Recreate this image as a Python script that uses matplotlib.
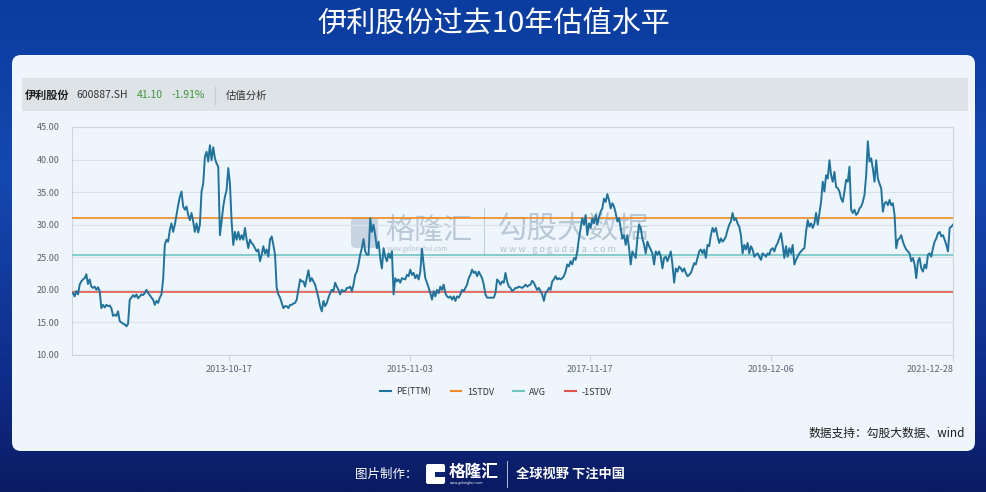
import numpy as np
import pandas as pd
import matplotlib.pyplot as plt
from matplotlib.patches import FancyBboxPatch, Rectangle
from matplotlib.lines import Line2D
from matplotlib.colors import LinearSegmentedColormap

plt.rcParams['font.family'] = ['Noto Sans CJK SC', 'DejaVu Sans']

# PE(TTM), roughly weekly samples, 2012-01 .. 2021-12
pe_2012_2013 = [
    19.5, 19.0, 19.8, 19.3, 20.8, 21.3, 21.6, 21.8, 22.4, 20.9,
    21.6, 20.5, 20.3, 20.5, 20.0, 20.4, 19.8, 17.2, 17.7, 17.3,
    17.7, 17.5, 17.6, 17.2, 16.0, 16.2, 16.0, 16.7, 15.2, 15.0,
    14.8, 14.7, 14.4, 14.8, 18.5, 18.8, 19.2, 18.9, 19.3, 18.7,
    19.0, 19.3, 19.2, 19.5, 20.0, 19.5, 19.2, 18.8, 18.5, 17.7,
    18.3, 18.0, 18.8, 19.3, 21.6, 26.9, 27.7, 27.4, 29.2, 30.2,
    28.9, 30.0, 31.5, 33.0, 34.3, 35.1, 32.8, 32.3, 32.8, 31.5,
    30.7, 31.8, 30.5, 28.9, 30.2, 28.8, 30.0, 35.1, 36.3, 40.4,
    41.2, 39.7, 42.2, 39.9, 41.9, 40.2, 39.4, 38.9, 28.4]
pe_2013_2015 = [
    30.5, 32.8, 34.3, 35.3, 38.7, 36.3, 30.5, 26.9, 28.9, 27.7,
    28.9, 27.7, 28.4, 27.7, 29.5, 27.7, 26.4, 27.7, 27.2, 26.9,
    26.4, 25.9, 26.2, 24.4, 25.4, 26.7, 25.6, 26.2, 25.1, 27.7,
    28.2, 26.9, 25.4, 20.3, 19.3, 18.8, 18.0, 17.2, 17.5, 17.5,
    17.2, 17.7, 17.7, 17.9, 18.0, 18.5, 20.0, 21.6, 21.3, 21.3,
    20.5, 21.8, 23.0, 21.3, 21.8, 21.3, 20.8, 19.8, 18.8, 17.5,
    16.7, 18.3, 17.5, 18.0, 18.8, 19.5, 20.0, 19.8, 21.1, 20.5,
    20.0, 19.3, 20.0, 19.8, 19.8, 20.3, 20.3, 20.5, 19.8, 20.8,
    22.3, 22.8, 23.9, 25.4, 26.4, 27.8, 25.9, 25.4]
pe_2015_2017 = [
    25.4, 31.0, 28.9, 30.0, 28.4, 26.4, 27.4, 24.9, 23.3, 26.4,
    25.1, 24.4, 25.6, 24.9, 25.9, 19.3, 21.8, 21.3, 21.6, 21.1,
    21.8, 21.7, 21.6, 22.3, 22.1, 23.1, 22.3, 22.6, 21.8, 22.3,
    21.6, 22.8, 26.3, 23.9, 21.8, 21.1, 20.3, 19.5, 18.5, 19.8,
    19.0, 20.0, 19.5, 20.5, 20.0, 20.8, 19.5, 19.0, 18.8, 19.0,
    18.5, 19.0, 18.3, 19.0, 18.8, 19.3, 20.0, 19.8, 20.3, 20.8,
    21.8, 22.3, 23.1, 22.6, 22.8, 22.1, 22.8, 22.3, 21.8, 20.8,
    19.3, 18.8, 18.8, 18.8, 18.8, 18.8, 19.5, 21.6, 21.3, 20.8,
    21.3, 21.1, 22.6, 21.3, 20.5, 20.3, 19.8, 20.0]
pe_2017_2018 = [
    20.3, 20.3, 20.5, 20.4, 20.3, 20.5, 20.8, 20.5, 20.7, 20.8,
    21.4, 21.1, 20.5, 20.0, 20.3, 19.8, 19.3, 18.3, 19.5, 19.8,
    20.3, 20.0, 21.3, 21.6, 22.1, 21.6, 21.8, 21.6, 21.8, 22.1,
    22.8, 23.9, 23.6, 24.4, 23.9, 24.9, 24.6, 25.9, 27.9, 29.5,
    31.0, 30.0, 31.5, 28.4, 30.2, 29.5, 31.0, 30.2, 31.5, 30.0,
    31.2, 32.0, 32.5, 34.0, 33.5, 34.7, 33.8, 32.5, 33.3, 32.8,
    31.8, 30.5, 31.0, 29.5, 27.9, 28.4, 26.9, 28.4, 26.4, 23.9,
    25.9, 25.4, 24.9, 27.9, 30.0, 29.5, 27.9, 26.9, 25.6, 27.4,
    26.7, 26.2, 25.6, 23.9, 25.9, 25.4, 25.9, 25.1]
pe_2018_2020 = [
    23.3, 24.9, 25.1, 24.4, 25.1, 25.9, 23.9, 21.1, 23.3, 22.8,
    23.6, 23.3, 22.8, 23.3, 22.6, 22.1, 22.3, 22.6, 23.3, 24.1,
    23.9, 24.9, 25.9, 26.2, 25.6, 26.2, 24.9, 26.9, 26.7, 28.4,
    29.5, 28.9, 29.5, 28.2, 27.2, 27.9, 27.4, 27.7, 28.2, 29.2,
    30.0, 30.5, 31.8, 30.7, 31.0, 30.2, 29.7, 28.4, 25.6, 26.9,
    26.2, 27.2, 25.6, 26.7, 26.2, 25.1, 25.4, 25.6, 25.1, 24.6,
    25.6, 25.4, 25.1, 25.6, 25.4, 26.2, 26.4, 25.9, 26.7, 27.2,
    27.9, 28.7, 26.9, 24.9, 26.7, 25.1, 26.4, 25.6, 26.9, 23.9,
    24.6, 25.1, 25.6, 25.9, 26.2, 26.4, 28.9, 30.7]
pe_2020_2021 = [
    29.7, 30.2, 29.5, 30.2, 31.8, 30.0, 31.8, 33.5, 36.6, 35.1,
    37.6, 37.1, 39.9, 37.6, 36.6, 38.1, 35.8, 35.6, 35.1, 34.0,
    33.5, 35.1, 36.9, 36.6, 38.9, 32.3, 31.8, 32.3, 31.5, 31.8,
    32.5, 32.8, 33.5, 34.6, 37.6, 42.8, 39.7, 40.2, 38.6, 36.6,
    39.9, 37.1, 36.3, 35.6, 32.0, 33.3, 33.5, 33.0, 33.8, 33.0,
    33.3, 31.5, 26.4, 27.7, 27.9, 28.4, 27.4, 26.7, 26.2, 25.9,
    25.6, 24.4, 24.9, 23.9, 21.8, 24.4, 24.9, 23.3, 22.8, 23.9,
    23.3, 25.4, 25.6, 25.1, 26.4, 27.4, 27.9, 28.7, 28.9, 28.2,
    28.4, 27.7, 26.9, 25.9, 29.5, 29.7, 30.0]

pe_ttm = (pe_2012_2013 + pe_2013_2015 + pe_2015_2017
          + pe_2017_2018 + pe_2018_2020 + pe_2020_2021)
dates = pd.date_range('2012-01-11', '2021-12-28', periods=len(pe_ttm))

stdv_up = 31.0
avg = 25.3
stdv_dn = 19.6

tick_dates = ['2013-10-17', '2015-11-03', '2017-11-17', '2019-12-06', '2021-12-28']
y_ticks = [10, 15, 20, 25, 30, 35, 40, 45]

c_pe = '#22739c'
c_up = '#f0892a'
c_avg = '#72c6c2'
c_dn = '#e3564f'

W, H = 987, 492
fig = plt.figure(figsize=(W / 100, H / 100), dpi=100)

# background layer in pixel units
bg = fig.add_axes([0, 0, 1, 1])
bg.set_xlim(0, W)
bg.set_ylim(H, 0)
bg.axis('off')
grad_cmap = LinearSegmentedColormap.from_list(
    'bgblue', [(0, '#0b3c9f'), (0.35, '#1449b2'), (0.8, '#0f2a86'), (1, '#0a1b62')])
grad = np.linspace(0, 1, 256).reshape(-1, 1)
bg.imshow(grad, extent=[0, W, H, 0], aspect='auto', cmap=grad_cmap, zorder=0)

bg.text(W / 2, 25, '伊利股份过去10年估值水平', color='white', fontsize=21,
        ha='center', va='center', zorder=3)

bg.add_patch(FancyBboxPatch((13, 56), 961, 395, boxstyle='round,pad=0,rounding_size=9',
                            fc='#6f9be6', ec='none', alpha=0.5, zorder=1))
bg.add_patch(FancyBboxPatch((12, 55), 963, 396, boxstyle='round,pad=0,rounding_size=9',
                            fc='#eef5fc', ec='none', zorder=2))
bg.add_patch(Rectangle((22, 78), 946, 33, fc='#dee3e7', ec='none', zorder=3))

# header row
hy = 95.5
bg.text(25, hy, '伊利股份', fontsize=8, fontweight='bold', color='#1e1e1e', va='center', zorder=4)
bg.text(76, hy, '600887.SH', fontsize=7.5, color='#333333', va='center', zorder=4)
bg.text(137, hy, '41.10', fontsize=7.5, color='#3f953a', va='center', zorder=4)
bg.text(172, hy, '-1.91%', fontsize=7.5, color='#3f953a', va='center', zorder=4)
bg.plot([215, 215], [87, 104], color='#c4c9ce', lw=0.8, zorder=4)
bg.text(226, hy, '估值分析', fontsize=7.5, color='#333333', va='center', zorder=4)

# faint watermark behind the plot
wm = '#a3b4c8'
bg.add_patch(FancyBboxPatch((351, 217), 27, 31, boxstyle='round,pad=0,rounding_size=5',
                            fc=wm, ec='none', alpha=0.5, zorder=3))
bg.text(385, 231, '格隆汇', fontsize=21, color=wm, alpha=0.7, va='center', zorder=3)
bg.text(387, 249, 'www.gelonghui.com', fontsize=4.5, color=wm, alpha=0.8, va='center', zorder=3)
bg.plot([484, 484], [208, 255], color=wm, lw=0.8, alpha=0.6, zorder=3)
bg.text(497, 229, '勾股大数据', fontsize=22, color=wm, alpha=0.7, va='center', zorder=3)
bg.text(500, 250, 'w w w . g o g u d a t a . c o m', fontsize=6.5, color=wm, alpha=0.8,
        va='center', zorder=3)

bg.text(965, 433, '数据支持：勾股大数据、wind', fontsize=8.5, color='#1e1e1e',
        ha='right', va='center', zorder=4)

# footer
fy = 474
bg.text(355, fy, '图片制作：', fontsize=9, color='white', va='center', zorder=3)
bg.add_patch(FancyBboxPatch((426, 464), 19, 20, boxstyle='round,pad=0,rounding_size=2',
                            fc='white', ec='none', zorder=3))
bg.add_patch(Rectangle((435, 472), 10, 5, fc='#0d2272', ec='none', zorder=4))
bg.text(449, fy - 2, '格隆汇', fontsize=12, fontweight='bold', color='white', va='center', zorder=3)
bg.text(450, fy + 9, 'www.gelonghui.com', fontsize=2.5, color='white', va='center', zorder=3)
bg.plot([507, 507], [461, 487], color='white', lw=0.7, alpha=0.7, zorder=3)
bg.text(516, fy, '全球视野 下注中国', fontsize=9.5, fontweight='bold', color='white',
        va='center', zorder=3)

# main chart
ax = fig.add_axes([72 / W, 1 - 355 / H, 881 / W, 228 / H])
ax.set_facecolor('none')
ax.set_zorder(2)

ax.plot(dates, pe_ttm, color=c_pe, lw=1.4, zorder=4, label='PE(TTM)')
ax.axhline(stdv_up, color=c_up, lw=1.2, zorder=3, label='1STDV')
ax.axhline(avg, color=c_avg, lw=1.2, zorder=3, label='AVG')
ax.axhline(stdv_dn, color=c_dn, lw=1.2, zorder=3, label='-1STDV')

ax.set_ylim(10, 45)
ax.set_xlim(pd.Timestamp('2012-01-07'), pd.Timestamp('2021-12-28'))
ax.set_yticks(y_ticks)
ax.set_yticklabels([f'{v:.2f}' for v in y_ticks])
ax.set_xticks(pd.to_datetime(tick_dates))
ax.set_xticklabels(tick_dates)
ax.get_xticklabels()[-1].set_ha('right')
ax.grid(axis='y', color='#d9e2ea', lw=0.8)
ax.set_axisbelow(True)
for s in ax.spines.values():
    s.set_color('#cdd5dd')
    s.set_linewidth(0.8)
ax.tick_params(axis='y', length=0, pad=9, labelsize=6.5, labelcolor='#5a6470')
ax.tick_params(axis='x', length=4, width=0.8, color='#cdd5dd', pad=3,
               labelsize=6.5, labelcolor='#5a6470')

handles = [Line2D([], [], color=c, lw=1.5) for c in (c_pe, c_up, c_avg, c_dn)]
leg = fig.legend(handles, ['PE(TTM)', '1STDV', 'AVG', '-1STDV'], loc='center',
                 bbox_to_anchor=(496 / W, 1 - 392 / H), ncol=4, frameon=False,
                 fontsize=6.5, handlelength=1.2, handletextpad=0.6, columnspacing=2.1)
for t in leg.get_texts():
    t.set_color('#333333')

fig.savefig('out.png', dpi=100)
